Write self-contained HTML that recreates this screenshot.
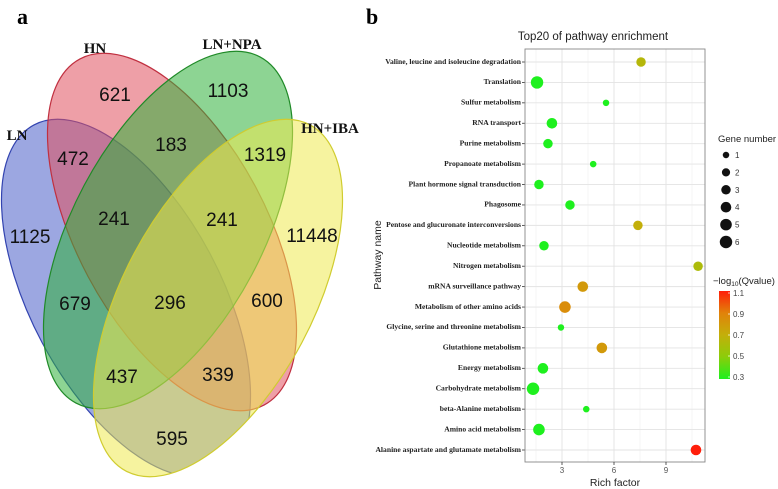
<!DOCTYPE html>
<html><head><meta charset="utf-8"><style>
body{margin:0;background:#fff;width:778px;height:489px;overflow:hidden}
svg{display:block}
.num{font-family:"Liberation Sans",sans-serif;font-size:19px;fill:#111;text-anchor:middle;dominant-baseline:middle}
.set{font-family:"Liberation Serif",serif;font-weight:bold;font-size:15px;fill:#111;text-anchor:middle}
.lab{font-family:"Liberation Serif",serif;font-weight:bold;font-size:7.6px;fill:#222;text-anchor:end;dominant-baseline:middle}
.sans{font-family:"Liberation Sans",sans-serif}
</style></head><body>
<svg id="root" width="778" height="489" xmlns="http://www.w3.org/2000/svg" overflow="hidden">
<defs>
<clipPath id="blueclip"><polygon points="0,0 370,0 370,382 200,382 115,430 0,430"/><ellipse cx="0" cy="0" rx="196" ry="95" transform="translate(218,298) rotate(118)"/></clipPath>
</defs>
<text x="17" y="24" font-family="Liberation Serif" font-weight="bold" font-size="22">a</text>
<text x="366" y="24" font-family="Liberation Serif" font-weight="bold" font-size="22">b</text>
<g id="venn"></g>
<g id="chart"></g>
</svg>
<script>
const NS="http://www.w3.org/2000/svg";
function mk(tag,attrs,parent,txt){const e=document.createElementNS(NS,tag);for(const k in attrs)e.setAttribute(k,attrs[k]);if(txt!==undefined)e.textContent=txt;parent.appendChild(e);return e;}
const venn=document.getElementById('venn');
const shapes=[
 {n:'set-ln',cx:126,cy:298,rot:62,fill:'#4a5fc8',stroke:'#3344b0',clip:'url(#blueclip)'},
 {n:'set-hn',cx:172,cy:232,rot:62,fill:'#e0505e',stroke:'#c03040'},
 {n:'set-ln-npa',cx:168,cy:230,rot:118,fill:'#2fb03a',stroke:'#208a28'},
 {n:'set-hn-iba',cx:218,cy:298,rot:118,fill:'#eeea50',stroke:'#d0cc30'}];
shapes.forEach(s=>{const a={cx:0,cy:0,rx:196,ry:95,transform:`translate(${s.cx},${s.cy}) rotate(${s.rot})`,fill:s.fill,'fill-opacity':0.55,stroke:s.stroke,'stroke-width':1.2};
const e=mk('ellipse',a,venn);
if(s.clip){const w=mk('g',{'clip-path':s.clip},venn);w.appendChild(e);}

});
const setLabels=[['LN',17,140],['HN',95,53],['LN+NPA',232,49],['HN+IBA',330,133]];
setLabels.forEach(l=>{const e=mk('text',{x:l[1],y:l[2],class:'set'},venn,l[0]);

});
const counts=[['621',115,96],['1103',228,92],['472',73,160],['183',171,146],['1319',265,156],['1125',30,238],['241',114,220],['241',222,221],['11448',312,237],['679',75,305],['296',170,304],['600',267,302],['437',122,378],['339',218,376],['595',172,440]];
counts.forEach(c=>{const e=mk('text',{x:c[1],y:c[2],class:'num'},venn,c[0]);

});

// ---------- bubble chart data ----------
const pathways=["Valine, leucine and isoleucine degradation","Translation","Sulfur metabolism","RNA transport","Purine metabolism","Propanoate metabolism","Plant hormone signal transduction","Phagosome","Pentose and glucuronate interconversions","Nucleotide metabolism","Nitrogen metabolism","mRNA surveillance pathway","Metabolism of other amino acids","Glycine, serine and threonine metabolism","Glutathione metabolism","Energy metabolism","Carbohydrate metabolism","beta-Alanine metabolism","Amino acid metabolism","Alanine aspartate and glutamate metabolism"];
const richFactor=[7.56,1.56,5.54,2.42,2.19,4.8,1.67,3.46,7.38,1.96,10.85,4.2,3.17,2.94,5.3,1.9,1.33,4.4,1.67,10.73];
const geneNumber=[3,6,1,4,3,1,3,3,3,3,3,4,5,1,4,4,6,1,5,4];
const qValue=[0.65,0.3,0.3,0.3,0.3,0.3,0.3,0.3,0.7,0.3,0.62,0.8,0.85,0.3,0.8,0.3,0.3,0.3,0.3,1.1];
const xTicks=[3,6,9];
const sizeLegend=[1,2,3,4,5,6];
const colorTicks=[1.1,0.9,0.7,0.5,0.3];

const L=525,R=705,T=49,B=462;
const xS=v=>562+(v-3)*(52/3);
const yS=i=>62+i*(450-62)/19;
const rS=g=>1.2+Math.sqrt(g)*2.05;
const stops=[[0.3,[30,240,30]],[0.5,[140,205,10]],[0.7,[195,175,10]],[0.9,[225,130,10]],[1.1,[255,30,10]]];
function col(q){for(let i=0;i<stops.length-1;i++){const[a,ca]=stops[i],[b,cb]=stops[i+1];if(q<=b||i==stops.length-2){const t=Math.max(0,Math.min(1,(q-a)/(b-a)));return `rgb(${ca.map((c,j)=>Math.round(c+(cb[j]-c)*t)).join(',')})`;}}}
const ch=document.getElementById('chart');
let e;
e=mk('rect',{x:L,y:T,width:R-L,height:B-T,fill:'#fff'},ch);


[1.5,4.5,7.5,10.5].forEach(v=>{mk('line',{x1:xS(v),x2:xS(v),y1:T,y2:B,stroke:'#f0f0f0','stroke-width':0.6},ch)});
xTicks.forEach(v=>{e=mk('line',{x1:xS(v),x2:xS(v),y1:T,y2:B,stroke:'#e3e3e3','stroke-width':0.9},ch);

});
pathways.forEach((p,i)=>{mk('line',{x1:L,x2:R,y1:yS(i),y2:yS(i),stroke:'#e3e3e3','stroke-width':0.9},ch);
mk('line',{x1:L-3,x2:L,y1:yS(i),y2:yS(i),stroke:'#333','stroke-width':0.8},ch);
e=mk('text',{x:L-4,y:yS(i),class:'lab'},ch,p);

});
e=mk('rect',{x:L,y:T,width:R-L,height:B-T,fill:'none',stroke:'#888','stroke-width':0.9},ch);


pathways.forEach((p,i)=>{e=mk('circle',{cx:xS(richFactor[i]),cy:yS(i),r:rS(geneNumber[i]),fill:col(qValue[i])},ch);

});
xTicks.forEach(v=>{mk('line',{x1:xS(v),x2:xS(v),y1:B,y2:B+3,stroke:'#333','stroke-width':0.8},ch);
e=mk('text',{x:xS(v),y:B+11,'text-anchor':'middle','font-size':8,fill:'#555',class:'sans'},ch,v);

});
e=mk('text',{x:615,y:486,'text-anchor':'middle','font-size':10.5,fill:'#222',class:'sans'},ch,'Rich factor');


e=mk('text',{x:0,y:0,'text-anchor':'middle','font-size':10.5,fill:'#222',class:'sans',transform:'translate(381,255) rotate(-90)'},ch,'Pathway name');


e=mk('text',{x:593,y:40,'text-anchor':'middle','font-size':11.5,fill:'#222',class:'sans'},ch,'Top20 of pathway enrichment');


// size legend
e=mk('text',{x:718,y:142,'font-size':9.5,fill:'#222',class:'sans'},ch,'Gene number');


sizeLegend.forEach((g,i)=>{const y=155+i*17.4;
e=mk('circle',{cx:726,cy:y,r:rS(g),fill:'#111'},ch);


e=mk('text',{x:735,y:y+3,'font-size':8,fill:'#333',class:'sans'},ch,g);

});
// color legend
e=mk('text',{x:713,y:284,'font-size':9.5,fill:'#222',class:'sans'},ch);
e.innerHTML='\u2212log<tspan font-size="6.5" dy="2">10</tspan><tspan dy="-2">(Qvalue)</tspan>';


const defs=mk('defs',{},ch);const g=mk('linearGradient',{id:'cg',x1:0,y1:1,x2:0,y2:0},defs);
stops.forEach(s=>mk('stop',{offset:(s[0]-0.3)/0.8,'stop-color':col(s[0])},g));
e=mk('rect',{x:719,y:291,width:11,height:88,fill:'url(#cg)'},ch);


colorTicks.forEach(v=>{const y=293+(1.1-v)/0.8*84;
mk('line',{x1:728,x2:730,y1:y,y2:y,stroke:'#fff','stroke-width':0.7},ch);
e=mk('text',{x:733,y:y+3,'font-size':8,fill:'#444',class:'sans'},ch,v.toFixed(1));

});
</script>
</body></html>
